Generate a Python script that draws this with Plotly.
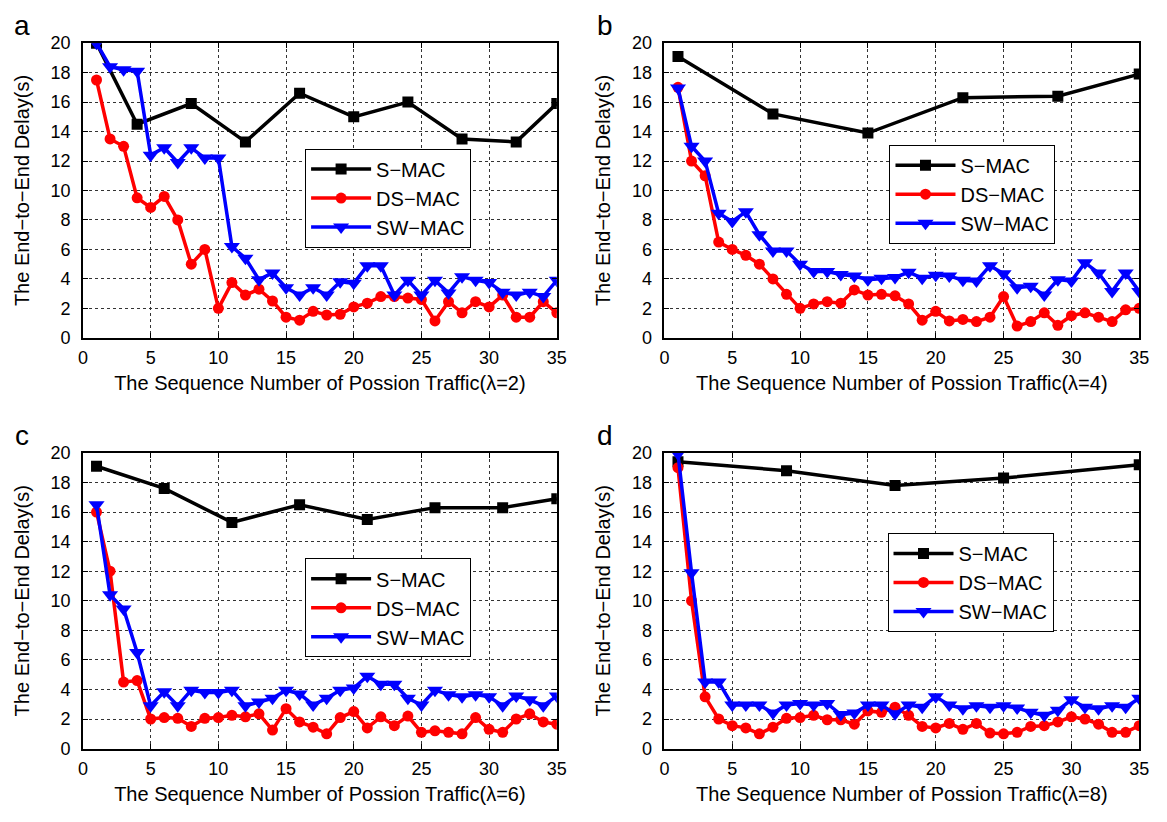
import plotly.graph_objects as go

# ---------------- data ----------------
a_s_x = [1, 4, 8, 12, 16, 20, 24, 28, 32, 35]
a_s_y = [20.0, 14.5, 15.9, 13.3, 16.6, 15.0, 16.0, 13.5, 13.3, 15.9]
a_ds_y = [17.5, 13.5, 13.0, 9.5, 8.85, 9.6, 8.0, 5.0, 6.0, 2.0, 3.75, 2.9, 3.3, 2.5, 1.4,
          1.2, 1.8, 1.55, 1.6, 2.1, 2.35, 2.8, 2.8, 2.7, 2.6, 1.15, 2.45, 1.7, 2.45, 2.1,
          2.9, 1.4, 1.4, 2.45, 1.7]
a_sw_y = [20.0, 18.4, 18.2, 18.1, 12.4, 12.9, 11.9, 12.9, 12.2, 12.2, 6.2, 5.4, 3.95, 4.4, 3.4,
          2.9, 3.4, 2.9, 3.8, 3.7, 4.9, 4.9, 2.9, 3.9, 2.9, 3.9, 3.05, 4.15, 3.9, 3.75,
          3.1, 2.9, 3.1, 2.8, 3.9]

b_s_x = [1, 8, 15, 22, 29, 35]
b_s_y = [19.1, 15.2, 13.9, 16.3, 16.4, 17.9]
b_ds_y = [17.0, 12.0, 11.0, 6.5, 6.0, 5.6, 5.0, 4.0, 2.95, 2.0, 2.3, 2.45, 2.35, 3.25, 2.9,
          2.95, 2.85, 2.3, 1.2, 1.8, 1.15, 1.25, 1.1, 1.4, 2.8, 0.8, 1.1, 1.7, 0.85, 1.5,
          1.7, 1.4, 1.1, 1.9, 2.0]
b_sw_y = [16.95, 13.0, 12.0, 8.45, 7.9, 8.55, 7.0, 5.9, 5.9, 5.0, 4.5, 4.5, 4.3, 4.2, 3.95,
          4.05, 4.1, 4.45, 4.05, 4.25, 4.2, 3.9, 3.85, 4.9, 4.35, 3.4, 3.5, 2.9, 3.95, 3.85,
          5.1, 4.4, 3.15, 4.4, 3.15]

c_s_x = [1, 6, 11, 16, 21, 26, 31, 35]
c_s_y = [19.1, 17.6, 15.3, 16.5, 15.5, 16.3, 16.3, 16.9]
c_ds_y = [16.0, 12.0, 4.5, 4.6, 2.0, 2.1, 2.05, 1.5, 2.05, 2.1, 2.25, 2.15, 2.35, 1.25, 2.7,
          1.8, 1.45, 1.0, 2.1, 2.5, 1.4, 2.15, 1.55, 2.2, 1.1, 1.2, 1.1, 1.0, 2.1, 1.3,
          1.1, 2.0, 2.35, 1.8, 1.65]
c_sw_y = [16.5, 10.4, 9.45, 6.5, 2.9, 3.85, 2.9, 3.95, 3.8, 3.8, 3.95, 2.9, 3.15, 3.4, 3.95,
          3.7, 2.95, 3.4, 3.95, 4.1, 4.9, 4.35, 4.35, 3.4, 2.95, 3.95, 3.65, 3.5, 3.65, 3.5,
          2.9, 3.55, 3.3, 2.9, 3.55]

d_s_x = [1, 9, 17, 25, 35]
d_s_y = [19.4, 18.8, 17.8, 18.3, 19.2]
d_ds_y = [19.0, 10.0, 3.5, 2.0, 1.55, 1.4, 1.0, 1.45, 2.05, 2.1, 2.25, 1.95, 1.95, 1.65, 2.55,
          2.45, 2.8, 2.25, 1.5, 1.4, 1.7, 1.3, 1.7, 1.05, 1.0, 1.1, 1.5, 1.55, 1.8, 2.15,
          2.0, 1.65, 1.1, 1.1, 1.55]
d_sw_y = [19.95, 11.9, 4.5, 4.5, 2.95, 2.95, 2.95, 2.4, 2.95, 3.05, 2.95, 3.05, 2.3, 2.4, 2.95,
          2.95, 2.35, 2.95, 2.8, 3.5, 2.95, 2.7, 2.9, 2.8, 2.9, 2.75, 2.45, 2.25, 2.6, 3.3,
          2.8, 2.7, 2.9, 2.8, 3.4]

seq_x = list(range(1, 36))
lambdas = [2, 4, 6, 8]
panel_letters = ["a", "b", "c", "d"]
series_names = ["S\u2212MAC", "DS\u2212MAC", "SW\u2212MAC"]
x_ticks = [0, 5, 10, 15, 20, 25, 30, 35]
y_ticks = [0, 2, 4, 6, 8, 10, 12, 14, 16, 18, 20]

panels = [
    (a_s_x, a_s_y, a_ds_y, a_sw_y),
    (b_s_x, b_s_y, b_ds_y, b_sw_y),
    (c_s_x, c_s_y, c_ds_y, c_sw_y),
    (d_s_x, d_s_y, d_ds_y, d_sw_y),
]

# ---------------- layout geometry (pixels) ----------------
W, H = 1167, 822
col_x = [(79, 559), (668, 1149)]
row_y = [(34, 336), (454, 757)]
legend_pos = [(304, 142), (896, 138), (304, 562), (894, 536)]
letter_pos = [(17, 16), (608, 16), (17, 436), (608, 436)]

FONT = "Liberation Sans, Arial, sans-serif"

fig = go.Figure()
layout = dict(
    width=W, height=H, margin=dict(l=0, r=0, t=0, b=0),
    paper_bgcolor="white", plot_bgcolor="white",
    font=dict(family=FONT, color="black", size=18),
    annotations=[],
)

colors = ["black", "red", "blue"]
symbols = ["square", "circle", "triangle-down"]
msizes = [11, 11, 14]

for i, (sx, sy, dsy, swy) in enumerate(panels):
    r, c = divmod(i, 2)
    x0, x1 = col_x[c]
    y0, y1 = row_y[r]
    xa = "xaxis" if i == 0 else f"xaxis{i+1}"
    ya = "yaxis" if i == 0 else f"yaxis{i+1}"
    xref = "x" if i == 0 else f"x{i+1}"
    yref = "y" if i == 0 else f"y{i+1}"
    leg = "legend" if i == 0 else f"legend{i+1}"

    xs_list = [sx, seq_x, seq_x]
    ys_list = [sy, dsy, swy]
    for k in range(3):
        fig.add_trace(go.Scatter(
            x=xs_list[k], y=ys_list[k], mode="lines+markers", name=series_names[k],
            xaxis=xref, yaxis=yref, legend=leg,
            line=dict(color=colors[k], width=3.5),
            marker=dict(symbol=symbols[k], size=msizes[k], color=colors[k],
                        line=dict(width=0)),
        ))

    axis_common = dict(
        showline=True, linecolor="black", linewidth=1.5, mirror="ticks",
        ticks="inside", ticklen=5, tickcolor="black", tickwidth=1,
        showgrid=True, gridcolor="#333", griddash="dot", gridwidth=1,
        zeroline=False, tickfont=dict(size=18, family=FONT, color="black"),
    )
    layout[xa] = dict(
        axis_common, domain=[x0 / W, x1 / W], range=[0, 35],
        tickmode="array", tickvals=x_ticks, anchor=yref, ticklabelstandoff=3,
        title=dict(text=f"The Sequence Number of Possion Traffic(\u03bb={lambdas[i]})",
                   font=dict(size=20, family=FONT), standoff=9),
    )
    layout[ya] = dict(
        axis_common, domain=[1 - y1 / H, 1 - y0 / H], range=[0, 20],
        tickmode="array", tickvals=y_ticks, anchor=xref, ticklabelstandoff=7,
        title=dict(text="The End\u2212to\u2212End Delay(s)",
                   font=dict(size=20, family=FONT), standoff=16),
    )
    lx, ly = legend_pos[i]
    layout[leg] = dict(
        x=lx / W, y=1 - ly / H, xanchor="left", yanchor="top",
        bgcolor="white", bordercolor="black", borderwidth=1,
        font=dict(size=20, family=FONT, color="black"),
        tracegroupgap=0, itemwidth=60,
    )
    px, py = letter_pos[i]
    layout["annotations"].append(dict(
        text=panel_letters[i], xref="paper", yref="paper",
        x=px / W, y=1 - py / H,
        xanchor="center", yanchor="middle", showarrow=False,
        font=dict(size=28, family=FONT, color="black"),
    ))

fig.update_layout(**layout)
fig.write_html("out.html")
